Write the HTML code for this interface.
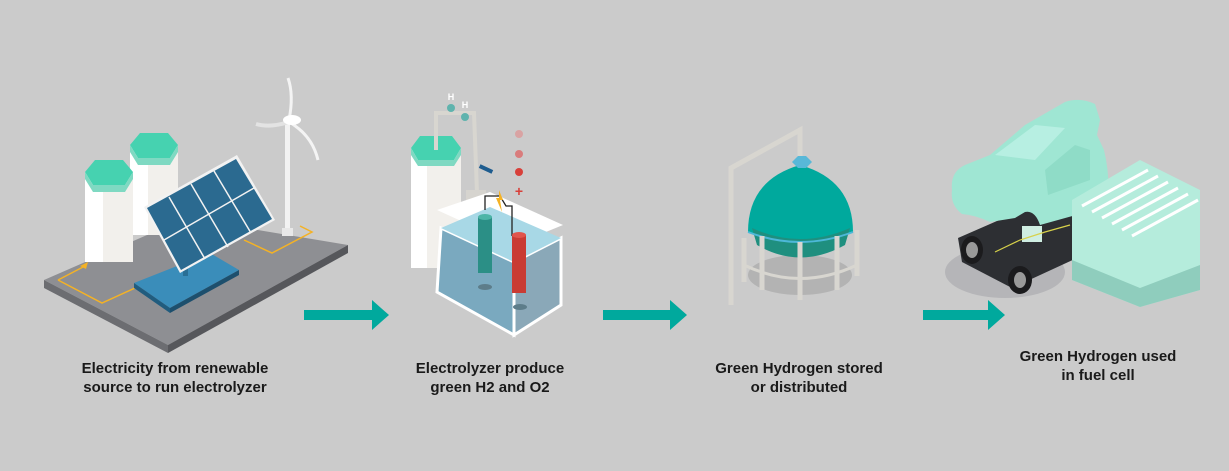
<!DOCTYPE html>
<html><head><style>
html,body{margin:0;padding:0;background:#cbcbcb;}
svg{display:block}
text{font-family:"Liberation Sans",sans-serif;font-size:15px;font-weight:bold;fill:#1a1a1a;text-anchor:middle}
</style></head><body>
<svg width="1229" height="471" viewBox="0 0 1229 471" xmlns="http://www.w3.org/2000/svg">
<rect width="1229" height="471" fill="#cbcbcb"/>
<!-- Stage 1: platform -->
<polygon points="44,280 186,218 348,245 168,345" fill="#8e8f93"/>
<polygon points="44,280 168,345 168,353 44,288" fill="#6c6d71"/>
<polygon points="168,345 348,245 348,253 168,353" fill="#56575b"/>
<polyline points="58,280 102,303 135,288" fill="none" stroke="#f4b225" stroke-width="1.5"/>
<polyline points="58,280 85,266" fill="none" stroke="#f4b225" stroke-width="1.5"/>
<polygon points="80,266 88,262 86,269" fill="#f4b225"/>
<polyline points="244,240 272,253 312,232 300,226" fill="none" stroke="#f4b225" stroke-width="1.5"/>
<!-- tanks -->
<rect x="130" y="145" width="48" height="90" fill="#f2f0ec"/>
<rect x="130" y="145" width="18" height="90" fill="#ffffff"/>
<polygon points="130,145 140,133 168,133 178,145 170,158 138,158" fill="#46d2b0"/>
<polygon points="130,145 138,158 170,158 178,145 178,152 170,165 138,165 130,152" fill="#7fd9c2"/>
<rect x="85" y="172" width="48" height="90" fill="#f2f0ec"/>
<rect x="85" y="172" width="18" height="90" fill="#ffffff"/>
<polygon points="85,172 95,160 123,160 133,172 125,185 93,185" fill="#46d2b0"/>
<polygon points="85,172 93,185 125,185 133,172 133,179 125,192 93,192 85,179" fill="#7fd9c2"/>
<!-- turbine -->
<rect x="285" y="122" width="5" height="112" fill="#f2f2f2"/>
<rect x="282" y="228" width="11" height="8" fill="#e8e8e8"/>
<path d="M289,120 Q294,95 288,78" stroke="#f4f4f4" stroke-width="3" fill="none"/>
<path d="M289,122 Q312,135 318,160" stroke="#f4f4f4" stroke-width="3" fill="none"/>
<path d="M289,122 Q270,128 256,124" stroke="#e3e3e3" stroke-width="4" fill="none"/>
<ellipse cx="292" cy="120" rx="9" ry="5" fill="#ffffff"/>
<!-- solar base -->
<polygon points="134,283 210,253 239,270 170,308" fill="#3a8dba"/>
<polygon points="134,283 170,308 170,313 134,288" fill="#215c7e"/>
<polygon points="170,308 239,270 239,275 170,313" fill="#1d4f6d"/>
<rect x="183" y="262" width="5" height="14" fill="#2a6f95"/>
<!-- solar panel -->
<polygon points="144,207 237,155 275,220 180,273" fill="#f2f2f2"/>
<polygon points="147,208 236,159 272,219 181,270" fill="#2b6a90"/>
<line x1="164" y1="240" x2="254" y2="188" stroke="#f2f2f2" stroke-width="1.5"/>
<line x1="169" y1="197" x2="205" y2="259" stroke="#f2f2f2" stroke-width="1.5"/>
<line x1="191" y1="184" x2="228" y2="247" stroke="#f2f2f2" stroke-width="1.5"/>
<line x1="214" y1="171" x2="251" y2="233" stroke="#f2f2f2" stroke-width="1.5"/>
<!-- arrow 1 -->
<polygon points="304,310 372,310 372,300 389,315 372,330 372,320 304,320" fill="#00a99d"/>
<!-- Stage 2 -->
<rect x="411" y="148" width="50" height="120" fill="#f2f0ec"/>
<rect x="411" y="148" width="16" height="120" fill="#ffffff"/>
<polygon points="411,148 420,136 452,136 461,148 454,160 418,160" fill="#46d2b0"/>
<polygon points="411,148 418,160 454,160 461,148 461,155 454,166 418,166 411,155" fill="#7fd9c2"/>
<polyline points="436,150 436,113 474,113 477,193" fill="none" stroke="#d8d6d0" stroke-width="4"/>
<rect x="466" y="190" width="20" height="10" fill="#d6d4cf"/>
<circle cx="451" cy="108" r="4" fill="#5fb3ad"/><circle cx="465" cy="117" r="4" fill="#5fb3ad"/>
<text x="451" y="100" style="font-size:9px;fill:#fff">H</text><text x="465" y="108" style="font-size:9px;fill:#fff">H</text>
<circle cx="519" cy="134" r="4" fill="#d9a3a3"/><circle cx="519" cy="154" r="4" fill="#d97c7c"/><circle cx="519" cy="172" r="4" fill="#d8403a"/>
<text x="519" y="196" style="font-size:14px;fill:#d8403a">+</text>
<rect x="479" y="167" width="14" height="4" fill="#1e5c8f" transform="rotate(25 486 169)"/>
<!-- box -->
<polygon points="437,210 490,192 563,225 514,245" fill="#ffffff"/>
<polygon points="441,228 514,262 514,335 437,292" fill="#7aa9bf" stroke="#ffffff" stroke-width="3"/>
<polygon points="514,262 561,238 561,305 514,335" fill="#8aa8b8" stroke="#ffffff" stroke-width="3"/>
<polygon points="441,228 490,207 561,238 514,262" fill="#a8d8e6"/>
<polyline points="485,210 485,196 500,196 506,206 512,206 512,236" stroke="#222" stroke-width="1.3" fill="none"/>
<polygon points="499,190 503,200 500,200 502,212 496,198 499,198" fill="#f4b225"/>
<rect x="478" y="217" width="14" height="56" fill="#2b8f86"/>
<ellipse cx="485" cy="217" rx="7" ry="3" fill="#4db5a8"/>
<rect x="512" y="235" width="14" height="58" fill="#c93b33"/>
<ellipse cx="519" cy="235" rx="7" ry="3" fill="#e0554c"/>
<ellipse cx="485" cy="287" rx="7" ry="3" fill="#5d7d8a"/><ellipse cx="520" cy="307" rx="7" ry="3" fill="#5d7d8a"/>
<!-- arrow 2 -->
<polygon points="603,310 670,310 670,300 687,315 670,330 670,320 603,320" fill="#00a99d"/>
<!-- Stage 3 -->
<ellipse cx="800" cy="275" rx="52" ry="20" fill="#b3b3b3"/>
<polyline points="731,305 731,168 800,130 800,160" fill="none" stroke="#d8d6d0" stroke-width="5"/>
<path d="M748,232 Q748,180 800,165 Q853,180 853,232 Q800,252 748,232Z" fill="#00a99d"/>
<path d="M752,228 Q800,250 850,228 L845,245 Q800,270 757,245Z" fill="#1f8f7f"/>
<path d="M748,232 Q800,252 853,232" stroke="#4db8d8" stroke-width="2" fill="none"/>
<polygon points="792,162 798,156 806,156 812,162 806,168 798,168" fill="#58b8d8"/>
<g stroke="#d8d6d0" stroke-width="5">
<line x1="744" y1="238" x2="744" y2="282"/><line x1="762" y1="236" x2="762" y2="290"/><line x1="800" y1="242" x2="800" y2="300"/><line x1="837" y1="236" x2="837" y2="290"/><line x1="857" y1="230" x2="857" y2="276"/>
</g>
<path d="M744,265 Q800,292 857,265" stroke="#d8d6d0" stroke-width="3" fill="none"/>
<!-- arrow 3 -->
<polygon points="923,310 988,310 988,300 1005,315 988,330 988,320 923,320" fill="#00a99d"/>
<!-- Stage 4 -->
<ellipse cx="1005" cy="272" rx="60" ry="26" fill="#b5b5b8"/>
<polygon points="958,238 1045,200 1092,214 1090,252 1012,288 962,262" fill="#2d2f33"/>
<ellipse cx="972" cy="250" rx="11" ry="14" fill="#1b1b1d"/><ellipse cx="972" cy="250" rx="6" ry="8" fill="#999"/>
<ellipse cx="1020" cy="280" rx="12" ry="14" fill="#1b1b1d"/><ellipse cx="1020" cy="280" rx="6" ry="8" fill="#999"/>
<rect x="1022" y="226" width="20" height="16" fill="#cfeee2"/>
<polyline points="995,252 1020,240 1045,232 1070,225" stroke="#d7d14a" stroke-width="1.2" fill="none"/>
<!-- car body -->
<path d="M952,190 Q950,172 965,165 L990,155 L1025,125 L1065,102 Q1080,97 1095,104 L1100,120 L1097,135 L1104,150 Q1110,175 1108,200 L1098,208 Q1092,190 1082,198 L1076,215 L1040,225 Q1035,210 1025,212 L1015,218 L990,222 Q975,215 962,214 Q950,205 952,190Z" fill="#9fe6d3"/>
<polygon points="995,155 1035,125 1065,128 1035,160" fill="#b7efe2"/>
<polygon points="1045,170 1075,145 1090,150 1090,180 1048,195" fill="#8fdcc7"/>
<!-- fuel cell stack -->
<polygon points="1072,200 1140,160 1200,190 1200,290 1140,307 1072,280" fill="#b5ecdc"/>
<polygon points="1072,260 1140,288 1200,265 1200,290 1140,307 1072,280" fill="#8fcdbd"/>
<g stroke="#ffffff" stroke-width="3" fill="none">
<line x1="1082" y1="206" x2="1148" y2="170"/><line x1="1092" y1="212" x2="1158" y2="176"/><line x1="1102" y1="218" x2="1168" y2="182"/><line x1="1112" y1="224" x2="1178" y2="188"/><line x1="1122" y1="230" x2="1188" y2="194"/><line x1="1132" y1="236" x2="1198" y2="200"/>
</g>
<!-- labels -->
<text x="175" y="373">Electricity from renewable</text>
<text x="175" y="392">source to run electrolyzer</text>
<text x="490" y="373">Electrolyzer produce</text>
<text x="490" y="392">green H2 and O2</text>
<text x="799" y="373">Green Hydrogen stored</text>
<text x="799" y="392">or distributed</text>
<text x="1098" y="361">Green Hydrogen used</text>
<text x="1098" y="380">in fuel cell</text>
</svg>
</body></html>
